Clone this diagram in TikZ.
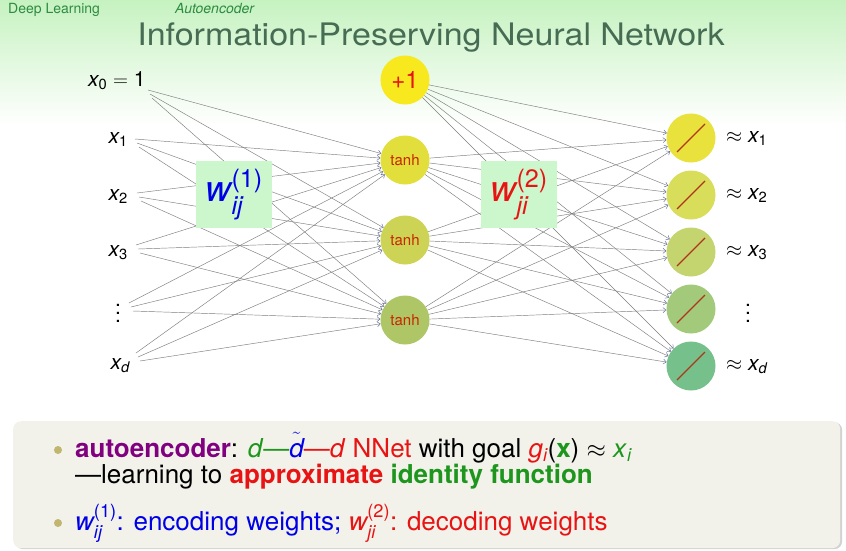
\documentclass[tikz,border=0pt]{standalone}
\usepackage{fontspec}
\setmainfont{TeX Gyre Heros}
\usepackage{amsmath}
\usepackage{graphicx}
\usetikzlibrary{arrows.meta,shadows}
\newcommand{\myvdots}{\vbox{\baselineskip=8pt\lineskiplimit=-10pt\lineskip=0pt\hbox{.}\hbox{.}\hbox{.}}}
\definecolor{bgtop}{RGB}{198,242,192}
\definecolor{titlec}{RGB}{70,108,84}
\definecolor{dlgreen}{RGB}{45,140,65}
\definecolor{edgec}{RGB}{125,125,125}
\definecolor{tipc}{RGB}{95,105,150}
\definecolor{biasc}{RGB}{248,232,30}
\definecolor{hA}{RGB}{226,222,60}
\definecolor{hB}{RGB}{205,212,85}
\definecolor{hC}{RGB}{175,198,102}
\definecolor{oA}{RGB}{233,226,60}
\definecolor{oB}{RGB}{216,221,90}
\definecolor{oC}{RGB}{196,213,112}
\definecolor{oD}{RGB}{162,202,122}
\definecolor{oE}{RGB}{118,192,140}
\definecolor{diagc}{RGB}{175,55,25}
\definecolor{tanhc}{RGB}{200,40,0}
\definecolor{wbox}{RGB}{204,246,204}
\definecolor{boxbg}{RGB}{242,242,235}
\definecolor{bulc}{RGB}{192,182,112}
\definecolor{cpur}{RGB}{128,0,128}
\definecolor{cgrn}{RGB}{30,150,30}
\definecolor{cblu}{RGB}{0,0,230}
\definecolor{cred}{RGB}{232,20,20}
\begin{document}
\begin{tikzpicture}[x=1pt,y=-1pt,
  edge/.style={draw=edgec, line width=0.45pt, -{Straight Barb[length=3pt,width=5pt,color=tipc]}},
  neuron/.style={circle, minimum size=49pt, inner sep=0pt, draw=none},
  inlab/.style={inner sep=0pt, font=\fontsize{21}{21}\selectfont},
  wlab/.style={fill=wbox, minimum width=76pt, minimum height=67pt, inner sep=0pt, font=\fontsize{36}{36}\selectfont},
  diag/.style={draw=diagc, line width=1.2pt},
  bullet/.style={circle, fill=bulc, minimum size=8pt, inner sep=0pt},
  btext/.style={anchor=base west, inner sep=0pt, font=\fontsize{26}{26}\selectfont}]
\useasboundingbox (0,0) rectangle (846,550);
\fill[white] (0,0) rectangle (846,550);
\shade[top color=bgtop, bottom color=white] (0,0) rectangle (846,125);

% header
\node[anchor=base west, inner sep=0pt, text=dlgreen, font=\fontsize{14}{14}\selectfont] (dl) at (8,13) {Deep Learning};
\node[anchor=base west, inner sep=0pt, text=dlgreen, font=\fontsize{14}{14}\selectfont\itshape] (ae) at (175,13) {Autoencoder};
\node[anchor=base, inner sep=0pt, text=titlec, font=\fontsize{31}{31}\selectfont] (title) at (431,45) {\scalebox{1.097}[1]{Information-Preserving Neural Network}};

% inputs
\node[inlab, anchor=base west] (in0) at (88,86) {$\textit{x}_{\text{0}} = \text{1}$};
\node[inlab, anchor=base east] (in1) at (128,143) {$\textit{x}_{\text{1}}$};
\node[inlab, anchor=base east] (in2) at (128,200) {$\textit{x}_{\text{2}}$};
\node[inlab, anchor=base east] (in3) at (128,256) {$\textit{x}_{\text{3}}$};
\node[inlab] (in4) at (118,313) {\myvdots};
\node[inlab, anchor=base east] (in5) at (130,369) {$\textit{x}_{\textit{d}}$};

% hidden
\node[neuron, fill=biasc, text=cred, font=\fontsize{24}{24}\selectfont] (h0) at (405,80) {+1};
\node[neuron, fill=hA, text=tanhc, font=\fontsize{15}{15}\selectfont] (h1) at (405,160) {tanh};
\node[neuron, fill=hB, text=tanhc, font=\fontsize{15}{15}\selectfont] (h2) at (405,240) {tanh};
\node[neuron, fill=hC, text=tanhc, font=\fontsize{15}{15}\selectfont] (h3) at (405,320) {tanh};

% outputs
\node[neuron, fill=oA] (o1) at (691,138) {};
\node[neuron, fill=oB] (o2) at (691,195) {};
\node[neuron, fill=oC] (o3) at (691,252) {};
\node[neuron, fill=oD] (o4) at (691,309) {};
\node[neuron, fill=oE] (o5) at (691,366) {};
\foreach \k in {1,...,5}
  \draw[diag] ([shift={(-14,14)}]o\k.center) -- ([shift={(14,-14)}]o\k.center);

\node[inlab, anchor=base west] (a1) at (726,142) {$\approx \textit{x}_{\text{1}}$};
\node[inlab, anchor=base west] (a2) at (726,199) {$\approx \textit{x}_{\text{2}}$};
\node[inlab, anchor=base west] (a3) at (726,256) {$\approx \textit{x}_{\text{3}}$};
\node[inlab] (a4) at (748,313) {\myvdots};
\node[inlab, anchor=base west] (a5) at (726,370) {$\approx \textit{x}_{\textit{d}}$};

% input -> hidden
\foreach \i/\sx/\sy in {0/150/94, 1/137/143, 2/139/197, 3/138/249, 4/131/307, 5/138/357} {
  \foreach \j in {1,2,3} {
    \coordinate (s\i\j) at (\sx+2*\j-4, \sy+4*\j-8);
    \draw[edge] (s\i\j) -- (h\j);
  }
}
% hidden -> output
\foreach \j in {0,1,2,3}
  \foreach \k in {1,...,5}
    \draw[edge] (h\j) -- (o\k);

% weight boxes
\node[wlab, anchor=north west] (w1) at (196,161) {\textcolor{cblu}{$\textit{w}_{\textit{ij}}^{\text{(1)}}$}};
\node[wlab, anchor=north west] (w2) at (481,161) {\textcolor{cred}{$\textit{w}_{\textit{ji}}^{\text{(2)}}$}};

% bottom box
\node[fill=boxbg, rounded corners=8pt, minimum width=827pt, minimum height=127pt, inner sep=0pt, anchor=north west,
  drop shadow={shadow xshift=2pt, shadow yshift=-1pt, opacity=0.35}] (box) at (13,421) {};
\node[bullet] (b1) at (58,450) {};
\node[bullet] (b2) at (58,523) {};
\node[btext] (l1) at (75,457) {\textcolor{cpur}{\textbf{autoencoder}}: \textcolor{cgrn}{\textit{d}—}\textcolor{cblu}{$\tilde{\textit{d}}$}\textcolor{cred}{—\textit{d} NNet} with goal \textcolor{cred}{\textit{g}$_{\textit{i}}$}(\textcolor{cgrn}{\textbf{x}}) $\approx$ \textcolor{cgrn}{\textit{x}$_{\textit{i}}$}};
\node[btext] (l2) at (75,483) {—learning to \textcolor{cred}{\textbf{approximate}} \textcolor{cgrn}{\textbf{identity function}}};
\node[btext] (l3) at (75,530) {\textcolor{cblu}{$\textit{w}_{\textit{ij}}^{\text{(1)}}$: encoding weights;} \textcolor{cred}{$\textit{w}_{\textit{ji}}^{\text{(2)}}$: decoding weights}};
\end{tikzpicture}
\end{document}
